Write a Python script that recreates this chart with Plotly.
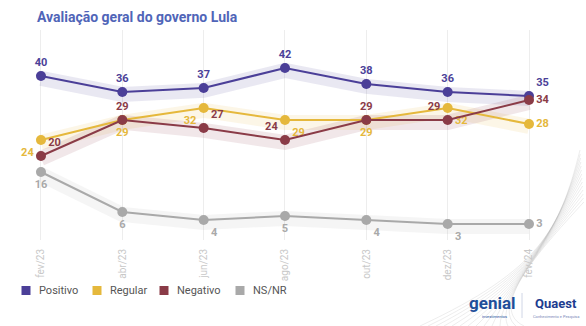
import plotly.graph_objects as go

months = ["fev/23", "abr/23", "jun/23", "ago/23", "out/23", "dez/23", "fev/24"]
positivo = [40, 36, 37, 42, 38, 36, 35]
regular = [24, 29, 32, 29, 29, 32, 28]
negativo = [20, 29, 27, 24, 29, 29, 34]
nsnr = [16, 6, 4, 5, 4, 3, 3]

series = [
    ("Positivo", positivo, "#4b3f98", "rgba(75,63,152,0.12)",
     ["top center"] * 6 + ["top right"]),
    ("Regular", regular, "#e5b83c", "rgba(229,184,60,0.12)",
     ["bottom left", "bottom center", "bottom left", "bottom right", "bottom center", "bottom right", "middle right"]),
    ("Negativo", negativo, "#8a3b47", "rgba(138,59,71,0.12)",
     ["top right", "top center", "top right", "top left", "top center", "top left", "middle right"]),
    ("NS/NR", nsnr, "#a9a9a9", "rgba(169,169,169,0.12)",
     ["bottom center", "bottom center", "bottom right", "bottom center", "bottom right", "bottom right", "middle right"]),
]

W, H = 586, 326
L, R, T, B = 20, 556, 30, 240


def px(x):
    return (x - L) / (R - L)


def py(y):
    return (B - y) / (B - T)


xs = list(range(len(months)))
fig = go.Figure()

# soft bands
for name, vals, col, band, pos in series:
    fig.add_trace(go.Scatter(x=xs, y=[v - 0.6 for v in vals], mode="lines",
                             line=dict(color=band, width=15),
                             hoverinfo="skip", showlegend=False))

for name, vals, col, band, pos in series:
    fig.add_trace(go.Scatter(
        x=xs, y=vals, mode="lines+markers+text", name=name,
        line=dict(color=col, width=2), marker=dict(color=col, size=10),
        text=[str(v) for v in vals], textposition=pos,
        textfont=dict(family="Roboto", size=11, color=col, weight="bold"),
        showlegend=False, cliponaxis=False))

fig.update_layout(
    width=W, height=H,
    margin=dict(l=L, r=W - R, t=T, b=H - B, autoexpand=False),
    paper_bgcolor="white", plot_bgcolor="white",
    font=dict(family="Roboto", color="#666"),
    showlegend=False,
    title=dict(text="<b>Avaliação geral do governo Lula</b>", x=37 / W, xanchor="left",
               y=1 - 17 / H, yanchor="middle",
               font=dict(family="Roboto", size=14, color="#5065b8")),
    xaxis=dict(range=[-0.258, 6.332], tickmode="array", tickvals=xs, ticktext=months,
               tickangle=-90, showgrid=True, gridcolor="#ededed", gridwidth=1,
               zeroline=False, showline=False, ticks="", ticklabelstandoff=6,
               tickfont=dict(family="Roboto", size=10, color="#c8c8c8")),
    yaxis=dict(range=[-1, 51.5], visible=False, showgrid=False, zeroline=False),
)

# decorative wave lines at right edge
for i in range(14):
    fig.add_shape(type="path", xref="paper", yref="paper", layer="below",
                  path=f"M {px(586 - 6 + i*0.3)},{py(150 + i*4)} C {px(560 - i*2)},{py(230 + i*2)} "
                       f"{px(540 - i*4)},{py(270 + i*3)} {px(420 + i*8)},{py(326)}",
                  line=dict(color="rgba(150,150,150,0.25)", width=0.7))

# manual legend
leg = [("Positivo", "#4b3f98", 26), ("Regular", "#e5b83c", 97),
       ("Negativo", "#8a3b47", 164), ("NS/NR", "#a9a9a9", 240)]
for name, col, cx in leg:
    fig.add_shape(type="rect", xref="paper", yref="paper",
                  x0=px(cx - 4.5), x1=px(cx + 4.5), y0=py(286), y1=py(295),
                  fillcolor=col, line=dict(width=0))
    fig.add_annotation(text=name, xref="paper", yref="paper", x=px(cx + 11), y=py(290.5),
                       xanchor="left", yanchor="middle", showarrow=False,
                       font=dict(family="Roboto", size=11, color="#555"))

anns = [
    dict(text="<b>genial</b>", x=492, y=303, size=17, color="#1f4f9a"),
    dict(text="investimentos", x=494, y=316, size=4, color="#1f4f9a"),
    dict(text="<b>Quaest</b>", x=556, y=303, size=13, color="#1d3c8f"),
    dict(text="Conhecimento e Pesquisa", x=556, y=316, size=4, color="#7a88b8"),
]
for a in anns:
    fig.add_annotation(text=a["text"], xref="paper", yref="paper",
                       x=px(a["x"]), y=py(a["y"]), xanchor="center", yanchor="middle",
                       showarrow=False, font=dict(family="Roboto", size=a["size"], color=a["color"]))
fig.add_shape(type="line", xref="paper", yref="paper", x0=px(522), x1=px(522),
              y0=py(293), y1=py(318), line=dict(color="#d0d6e6", width=1))

fig.write_html("out.html")
